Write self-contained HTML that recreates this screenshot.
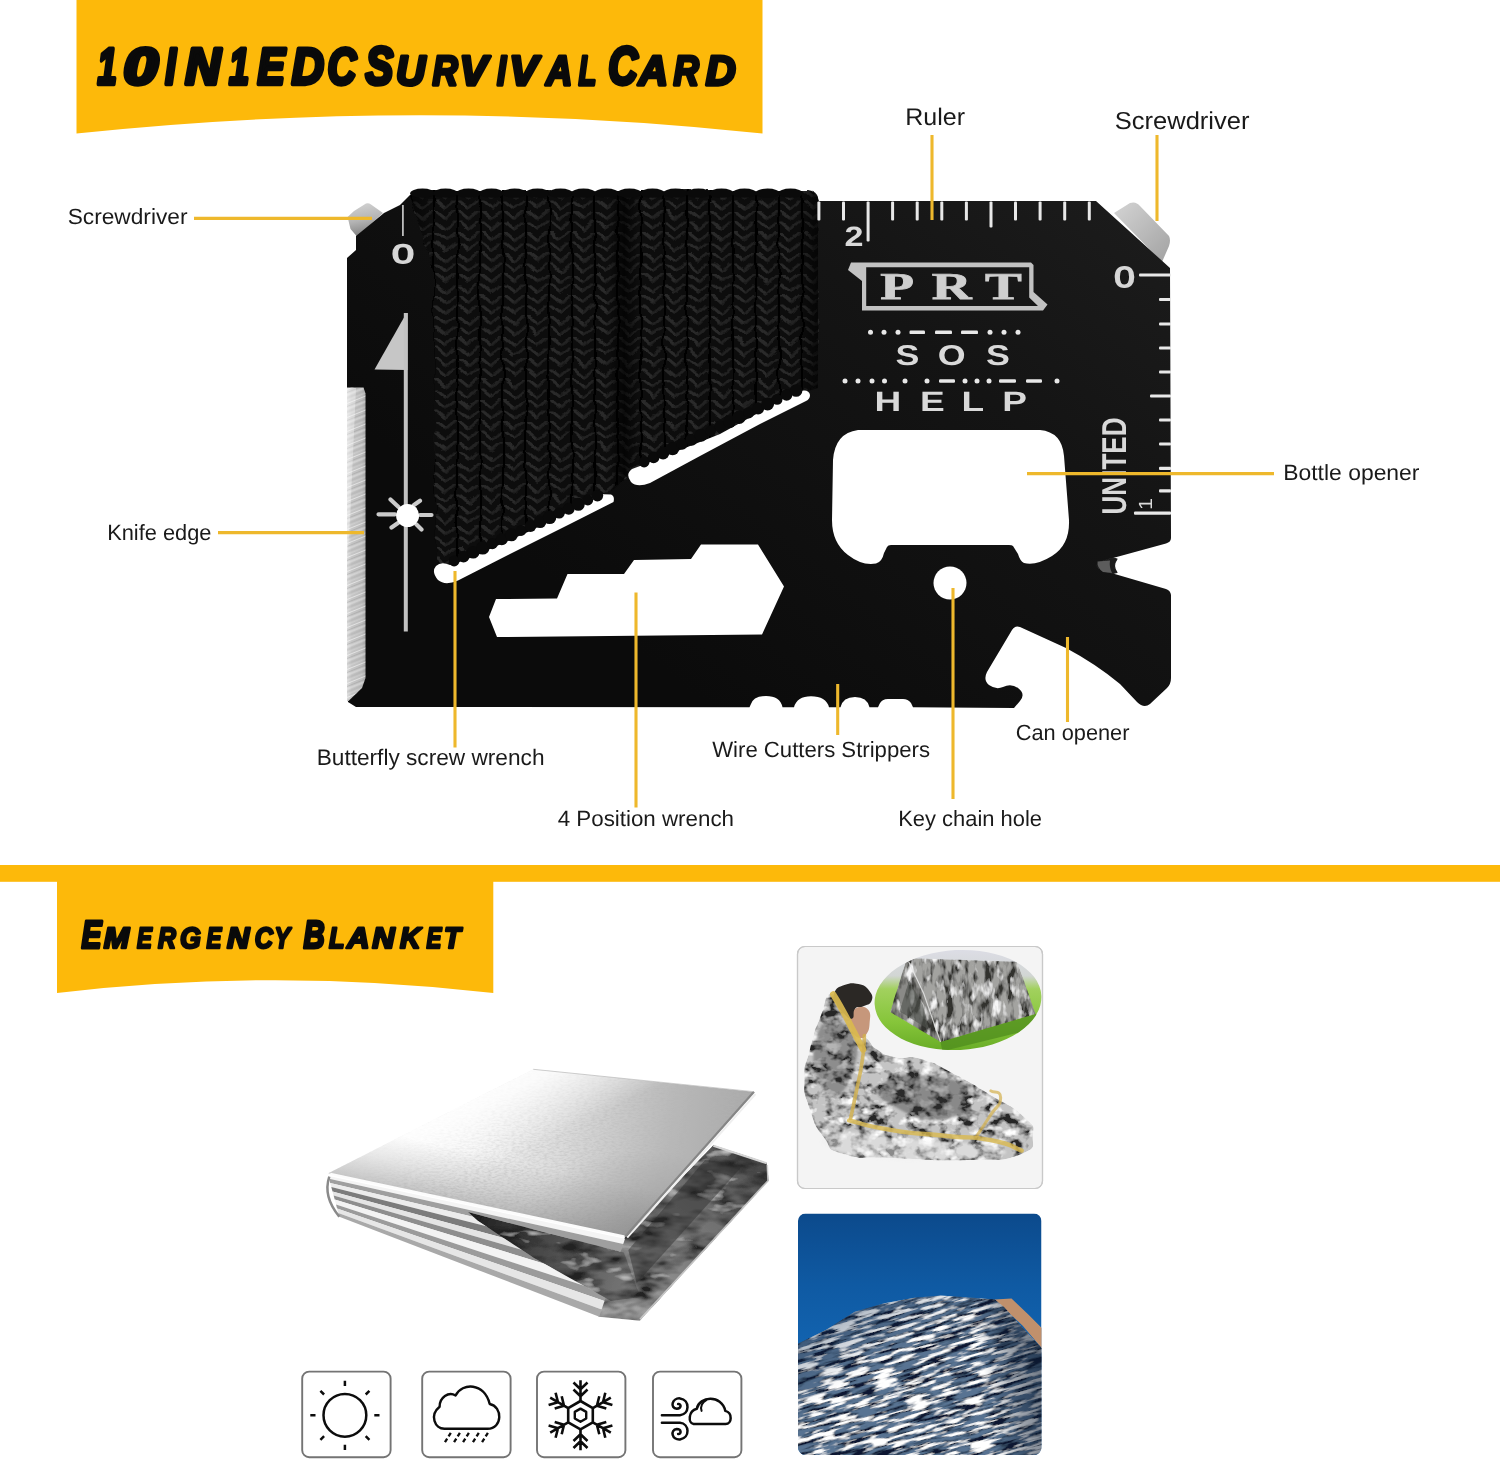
<!DOCTYPE html>
<html lang="en">
<head>
<meta charset="utf-8">
<title>10IN1 EDC Survival Card / Emergency Blanket</title>
<style>
html,body{margin:0;padding:0;background:#fff;}
body{width:1500px;height:1461px;overflow:hidden;position:relative;font-family:"Liberation Sans",sans-serif;}
svg{position:absolute;left:0;top:0;display:block;}
text{text-rendering:geometricPrecision;}
svg{will-change:transform;}
.lbl{font-family:"Liberation Sans",sans-serif;fill:#1a1a1a;}
.ttl{font-family:"Liberation Sans",sans-serif;font-weight:bold;font-style:italic;fill:#0a0a0a;stroke:#0a0a0a;stroke-linejoin:round;}
.eng{font-family:"Liberation Sans",sans-serif;fill:#d9d9d9;}
.ylw{stroke:#eeb82c;stroke-width:3.1;fill:none;stroke-linecap:butt;}
</style>
</head>
<body>
<svg width="1500" height="1461" viewBox="0 0 1500 1461">
<!-- ===== top banner ===== -->
<g id="banner1">
  <title>10IN1EDC SURVIVAL CARD</title>
  <path d="M76.5,0 H762.5 V133.5 Q420,97 76.5,133.5 Z" fill="#fdb90a"/>
  <text class="ttl"><tspan x="97.6" y="84.2" font-size="51.2" stroke-width="4.4" textLength="19.3" lengthAdjust="spacingAndGlyphs">1</tspan><tspan x="123.6" y="84.2" font-size="51.2" stroke-width="4.4" textLength="34.5" lengthAdjust="spacingAndGlyphs">0</tspan><tspan x="165.2" y="84.2" font-size="51.2" stroke-width="4.4" textLength="10.6" lengthAdjust="spacingAndGlyphs">I</tspan><tspan x="185.3" y="84.2" font-size="51.2" stroke-width="4.4" textLength="35.3" lengthAdjust="spacingAndGlyphs">N</tspan><tspan x="228.9" y="84.2" font-size="51.2" stroke-width="4.4" textLength="20.1" lengthAdjust="spacingAndGlyphs">1</tspan><tspan x="257.5" y="84.2" font-size="51.2" stroke-width="4.4" textLength="27.4" lengthAdjust="spacingAndGlyphs">E</tspan><tspan x="291.7" y="84.2" font-size="51.2" stroke-width="4.4" textLength="32.2" lengthAdjust="spacingAndGlyphs">D</tspan><tspan x="327.4" y="84.2" font-size="51.2" stroke-width="4.4" textLength="28.7" lengthAdjust="spacingAndGlyphs">C</tspan></text>
  <text class="ttl"><tspan x="365.5" y="84.2" font-size="53" stroke-width="4.4" textLength="27.7" lengthAdjust="spacingAndGlyphs">S</tspan><tspan x="396.1" y="84.7" font-size="42" stroke-width="3.4" textLength="29.3" lengthAdjust="spacingAndGlyphs">U</tspan><tspan x="432.4" y="84.7" font-size="42" stroke-width="3.4" textLength="25.3" lengthAdjust="spacingAndGlyphs">R</tspan><tspan x="459.5" y="84.7" font-size="42" stroke-width="3.4" textLength="28.0" lengthAdjust="spacingAndGlyphs">V</tspan><tspan x="496.9" y="84.7" font-size="42" stroke-width="3.4" textLength="9.1" lengthAdjust="spacingAndGlyphs">I</tspan><tspan x="509.3" y="84.7" font-size="42" stroke-width="3.4" textLength="28.7" lengthAdjust="spacingAndGlyphs">V</tspan><tspan x="545.9" y="84.7" font-size="42" stroke-width="3.4" textLength="26.3" lengthAdjust="spacingAndGlyphs">A</tspan><tspan x="578.4" y="84.7" font-size="42" stroke-width="3.4" textLength="17.9" lengthAdjust="spacingAndGlyphs">L</tspan></text>
  <text class="ttl"><tspan x="608.2" y="84.2" font-size="53" stroke-width="4.4" textLength="29.4" lengthAdjust="spacingAndGlyphs">C</tspan><tspan x="638.4" y="84.7" font-size="42" stroke-width="3.4" textLength="29.5" lengthAdjust="spacingAndGlyphs">A</tspan><tspan x="673.6" y="84.7" font-size="42" stroke-width="3.4" textLength="25.4" lengthAdjust="spacingAndGlyphs">R</tspan><tspan x="705.8" y="84.7" font-size="42" stroke-width="3.4" textLength="30.0" lengthAdjust="spacingAndGlyphs">D</tspan></text>
</g>
<!-- ===== divider bar + second banner ===== -->
<g id="banner2">
  <title>EMERGENCY BLANKET</title>
  <rect x="0" y="865" width="1500" height="16.8" fill="#fdb90a"/>
  <path d="M57,880 H493.3 V993 Q275,967.5 57,993 Z" fill="#fdb90a"/>
  <text class="ttl"><tspan x="81.4" y="947.5" font-size="39" stroke-width="3.2" textLength="20.0" lengthAdjust="spacingAndGlyphs">E</tspan><tspan x="103.7" y="947.9" font-size="29.3" stroke-width="2.5" textLength="25.4" lengthAdjust="spacingAndGlyphs">M</tspan><tspan x="136.9" y="947.9" font-size="29.3" stroke-width="2.5" textLength="14.9" lengthAdjust="spacingAndGlyphs">E</tspan><tspan x="158.1" y="947.9" font-size="29.3" stroke-width="2.5" textLength="17.9" lengthAdjust="spacingAndGlyphs">R</tspan><tspan x="179.9" y="947.9" font-size="29.3" stroke-width="2.5" textLength="20.9" lengthAdjust="spacingAndGlyphs">G</tspan><tspan x="206.6" y="947.9" font-size="29.3" stroke-width="2.5" textLength="14.9" lengthAdjust="spacingAndGlyphs">E</tspan><tspan x="226.9" y="947.9" font-size="29.3" stroke-width="2.5" textLength="22.4" lengthAdjust="spacingAndGlyphs">N</tspan><tspan x="254.8" y="947.9" font-size="29.3" stroke-width="2.5" textLength="18.2" lengthAdjust="spacingAndGlyphs">C</tspan><tspan x="274.6" y="947.9" font-size="29.3" stroke-width="2.5" textLength="15.4" lengthAdjust="spacingAndGlyphs">Y</tspan></text>
  <text class="ttl"><tspan x="303.6" y="947.5" font-size="39" stroke-width="3.2" textLength="21.2" lengthAdjust="spacingAndGlyphs">B</tspan><tspan x="329.0" y="947.9" font-size="29.3" stroke-width="2.5" textLength="15.5" lengthAdjust="spacingAndGlyphs">L</tspan><tspan x="347.0" y="947.9" font-size="29.3" stroke-width="2.5" textLength="22.5" lengthAdjust="spacingAndGlyphs">A</tspan><tspan x="372.2" y="947.9" font-size="29.3" stroke-width="2.5" textLength="22.4" lengthAdjust="spacingAndGlyphs">N</tspan><tspan x="400.1" y="947.9" font-size="29.3" stroke-width="2.5" textLength="20.5" lengthAdjust="spacingAndGlyphs">K</tspan><tspan x="426.6" y="947.9" font-size="29.3" stroke-width="2.5" textLength="14.9" lengthAdjust="spacingAndGlyphs">E</tspan><tspan x="444.1" y="947.9" font-size="29.3" stroke-width="2.5" textLength="16.6" lengthAdjust="spacingAndGlyphs">T</tspan></text>
</g>
<!-- ===== survival card ===== -->
<defs>
  <pattern id="braid" width="23" height="10.5" patternUnits="userSpaceOnUse" patternTransform="translate(411,190)">
    <rect width="23" height="10.5" fill="#0a0a0a"/>
    <path d="M2.5,0.5 L11,7.5" stroke="#2b2b2b" stroke-width="3.1" fill="none" stroke-linecap="round"/>
    <path d="M20.5,0.5 L12,7.5" stroke="#202020" stroke-width="3.1" fill="none" stroke-linecap="round"/>
    <path d="M0,-1 V12 M23,-1 V12" stroke="#000" stroke-width="2.2"/>
  </pattern>
  <filter id="wob" x="-2%" y="-2%" width="104%" height="104%">
    <feTurbulence type="fractalNoise" baseFrequency="0.045 0.06" numOctaves="2" seed="4" result="t"/>
    <feDisplacementMap in="SourceGraphic" in2="t" scale="7" xChannelSelector="R" yChannelSelector="G"/>
  </filter>
  <pattern id="streaks" width="19" height="14" patternUnits="userSpaceOnUse" patternTransform="translate(347,388) skewY(-22)">
    <path d="M0,1.5 H19" stroke="#fff" stroke-opacity="0.55" stroke-width="0.9"/>
    <path d="M0,4.5 H19" stroke="#888" stroke-opacity="0.35" stroke-width="0.8"/>
    <path d="M0,7 H19" stroke="#fff" stroke-opacity="0.4" stroke-width="1.2"/>
    <path d="M0,10 H19" stroke="#777" stroke-opacity="0.3" stroke-width="0.7"/>
    <path d="M0,12.3 H19" stroke="#fff" stroke-opacity="0.3" stroke-width="0.6"/>
  </pattern>
  <clipPath id="knifeClip"><path d="M347,387.5 L363.5,387.5 L365.5,393.5 L365.5,678 L362,688 L348.5,701 L347,701 Z"/></clipPath>
  <linearGradient id="cardG" gradientUnits="userSpaceOnUse" x1="1100" y1="200" x2="700" y2="700">
    <stop offset="0" stop-color="#1b1b1b"/>
    <stop offset="0.35" stop-color="#141414"/>
    <stop offset="1" stop-color="#0b0b0b"/>
  </linearGradient>
  <linearGradient id="knifeG" x1="0" y1="0" x2="1" y2="0">
    <stop offset="0" stop-color="#dcdcdc"/>
    <stop offset="0.25" stop-color="#c6c6c6"/>
    <stop offset="0.8" stop-color="#bdbdbd"/>
    <stop offset="1" stop-color="#a9a9a9"/>
  </linearGradient>
  <linearGradient id="tipG" x1="0" y1="0" x2="1" y2="1">
    <stop offset="0" stop-color="#d4d4d4"/>
    <stop offset="1" stop-color="#a2a2a2"/>
  </linearGradient>
  <linearGradient id="tipG2" x1="0.3" y1="0" x2="0.5" y2="1">
    <stop offset="0" stop-color="#d2d2d2"/>
    <stop offset="0.5" stop-color="#b5b5b5"/>
    <stop offset="1" stop-color="#7e7e7e"/>
  </linearGradient>
  <linearGradient id="cordShade" x1="0" y1="0" x2="1" y2="0">
    <stop offset="0" stop-color="#000" stop-opacity="0.55"/>
    <stop offset="0.06" stop-color="#000" stop-opacity="0"/>
    <stop offset="0.49" stop-color="#000" stop-opacity="0"/>
    <stop offset="0.525" stop-color="#000" stop-opacity="0.7"/>
    <stop offset="0.56" stop-color="#000" stop-opacity="0"/>
    <stop offset="0.95" stop-color="#000" stop-opacity="0"/>
    <stop offset="1" stop-color="#000" stop-opacity="0.6"/>
  </linearGradient>
</defs>
<g id="card">
  <!-- screwdriver tips -->
  <path d="M347.6,217 L354,211 L366,203.6 Q368.5,202.6 371,204.5 L383,213 L357,236.5 L350.5,229 Z" fill="url(#tipG2)"/>
  <path d="M1114,213 L1130,203 Q1136,201 1140,206 L1169,236 Q1171,240 1169,246 L1162,262 Z" fill="url(#tipG)"/>
  <!-- card body -->
  <path id="cardbody" fill="url(#cardG)" d="
    M347,258 L356,250 L356,236 L384,213 L400,205 L408,197
    Q412,192 420,191.5 L808,191.5 Q816,192 818,198 L819,201
    L1096,201 L1170,268 L1171,538 Q1171,542 1166,543.5
    L1113,558 Q1096,562 1097,566 Q1098,570 1113,573.5
    L1166,589 Q1170.5,590.5 1171,595 L1171,678 Q1171,684 1167,688
    L1150,704 Q1144,709 1137,702 L1120,684 Q1096,664 1066,648 L1020,627 Q1015,625 1012,630
    L987,672 Q983,680 989,685 Q996,690 1003,687 Q1011,683 1018,688 Q1026,694 1020,701 L1014,708
    L913,707.2 L911,703 Q908,699 903,699 L888,699 Q882,699 879.5,704 L878,707.2 L869.5,707.2 Q867,697 855,697 Q843,697 840.5,707.2 L829,707.2 Q826,696.3 811,696.3 Q797,696.3 794,707.2 L782.5,707.2 Q780,696 766,696 Q753,696 750.5,705 L749.5,707.2
    L356,707 L348,702 L347,690 Z"/>
  <!-- paracord -->
  <path fill="url(#braid)" filter="url(#wob)" d="M410,196 Q414,191 422,191 L808,191 Q817,192 818,199 L818,388 L806,392 L780,400 L760,412 L720,434 L680,450 L640,466 L630,472 L614,490 L596,494 L570,512 L530,532 L490,550 L450,566 L436,562 L434,270 Z"/>
  <path fill="url(#cordShade)" d="M410,196 Q414,191 422,191 L808,191 Q817,192 818,199 L818,388 L806,392 L780,400 L760,412 L720,434 L680,450 L640,466 L630,472 L614,490 L596,494 L570,512 L530,532 L490,550 L450,566 L436,562 L434,270 Z"/>
  <!-- diagonal slots -->
  <path fill="#fff" d="M450,565 Q470,559 490,549 L530,531 L570,511 L596,494 L611,494.5 Q615,496 613.5,502 L570,524 L510,554 L458,580.5 Q445,586 438,580 Q431,572 436,566 Q441,561 450,565 Z"/>
  <path fill="#fff" d="M640,466 L680,450 L720,434 L760,412 L780,400 L800,391 Q809,389 810,395 Q810,399 806,401 L760,424 L700,456 L650,483 Q637,488 631,482 Q625,474 632,469 Z"/>
  <g id="scallops" fill="#0a0a0a">
  <circle cx="454.1" cy="561.0" r="5.4"/>
  <circle cx="463.6" cy="556.6" r="5.8"/>
  <circle cx="473.2" cy="552.3" r="6.3"/>
  <circle cx="482.7" cy="547.9" r="6.7"/>
  <circle cx="492.3" cy="543.6" r="5.6"/>
  <circle cx="501.8" cy="539.2" r="6.0"/>
  <circle cx="511.4" cy="534.8" r="6.5"/>
  <circle cx="521.0" cy="530.5" r="5.4"/>
  <circle cx="530.5" cy="526.1" r="5.8"/>
  <circle cx="540.1" cy="521.8" r="6.3"/>
  <circle cx="549.6" cy="517.4" r="6.7"/>
  <circle cx="559.2" cy="513.0" r="5.6"/>
  <circle cx="568.7" cy="508.7" r="6.0"/>
  <circle cx="578.3" cy="504.3" r="6.5"/>
  <circle cx="587.8" cy="500.0" r="5.4"/>
  <circle cx="597.4" cy="495.6" r="5.8"/>
  <circle cx="644.1" cy="462.0" r="5.4"/>
  <circle cx="653.6" cy="457.5" r="5.8"/>
  <circle cx="663.1" cy="453.1" r="6.3"/>
  <circle cx="672.6" cy="448.6" r="6.7"/>
  <circle cx="682.1" cy="444.1" r="5.6"/>
  <circle cx="691.6" cy="439.7" r="6.0"/>
  <circle cx="701.1" cy="435.2" r="6.5"/>
  <circle cx="710.6" cy="430.7" r="5.4"/>
  <circle cx="720.1" cy="426.2" r="5.8"/>
  <circle cx="729.6" cy="421.8" r="6.3"/>
  <circle cx="739.1" cy="417.3" r="6.7"/>
  <circle cx="748.6" cy="412.8" r="5.6"/>
  <circle cx="758.1" cy="408.4" r="6.0"/>
  <circle cx="767.6" cy="403.9" r="6.5"/>
  <circle cx="777.1" cy="399.4" r="5.4"/>
  <circle cx="786.6" cy="394.9" r="5.8"/>
  <circle cx="796.1" cy="390.5" r="6.3"/>
  <ellipse cx="422.5" cy="193.2" rx="12.3" ry="4.6"/>
  <ellipse cx="445.5" cy="193.2" rx="12.3" ry="4.6"/>
  <ellipse cx="468.5" cy="193.2" rx="12.3" ry="4.6"/>
  <ellipse cx="491.5" cy="193.2" rx="12.3" ry="4.6"/>
  <ellipse cx="514.5" cy="193.2" rx="12.3" ry="4.6"/>
  <ellipse cx="537.5" cy="193.2" rx="12.3" ry="4.6"/>
  <ellipse cx="560.5" cy="193.2" rx="12.3" ry="4.6"/>
  <ellipse cx="583.5" cy="193.2" rx="12.3" ry="4.6"/>
  <ellipse cx="606.5" cy="193.2" rx="12.3" ry="4.6"/>
  <ellipse cx="629.5" cy="193.2" rx="12.3" ry="4.6"/>
  <ellipse cx="652.5" cy="193.2" rx="12.3" ry="4.6"/>
  <ellipse cx="675.5" cy="193.2" rx="12.3" ry="4.6"/>
  <ellipse cx="698.5" cy="193.2" rx="12.3" ry="4.6"/>
  <ellipse cx="721.5" cy="193.2" rx="12.3" ry="4.6"/>
  <ellipse cx="744.5" cy="193.2" rx="12.3" ry="4.6"/>
  <ellipse cx="767.5" cy="193.2" rx="12.3" ry="4.6"/>
  <ellipse cx="790.5" cy="193.2" rx="12.3" ry="4.6"/>
  </g>
  <!-- 4 position wrench -->
  <path fill="#fff" d="M489,617 L496,599 L557,598.5 L567.5,574 L624,574 L634,560 L691,559 L701,544.5 L758,544.5 L784,586.5 L762,634.5 L497,637 Z"/>
  <!-- bottle opener -->
  <path fill="#fff" d="M858,430 L1040,430 Q1062,432 1064,456 L1069,520 Q1070,545 1052,556 Q1036,566 1024,563 Q1020,561 1018,554 L1013,546 Q1012,545 1009,545 L891,545 Q888,545 887,547 L884,553 Q882,562 876,563.5 Q862,566 848,555 Q832,543 832,520 L833,460 Q835,433 858,430 Z"/>
  <!-- key chain hole -->
  <circle cx="950" cy="583" r="16.5" fill="#fff"/>
  <!-- notch bevel -->
  <path fill="#1b1b1b" stroke="#1b1b1b" stroke-width="1.2" stroke-linejoin="round" d="M1113,558 Q1096,562 1097,566 Q1098,570 1113,573.5 L1117,572.5 Q1112,566 1117,559 Z"/>
  <path fill="#5c5c5c" d="M1097.5,561.5 L1110,560.5 Q1109,567 1112,573 L1103,572 Q1097,568 1097.5,561.5 Z"/>
  <!-- knife edge -->
  <path fill="url(#knifeG)" d="M347,387.5 L363.5,387.5 L365.5,393.5 L365.5,678 L362,688 L348.5,701 L347,701 Z"/>
  <g clip-path="url(#knifeClip)">
    <rect x="347" y="387" width="19" height="315" fill="url(#streaks)"/>
    <path d="M347,388 L356,388 L350,520 L347,560 Z" fill="#fff" opacity="0.35"/>
  </g>
  <!-- arrow -->
  <path fill="#c6c6c6" d="M406.5,313 L407.5,313 L407.5,370 L374.5,369.5 Z"/>
  <rect x="403.8" y="313" width="4" height="318.5" fill="#c2c2c2"/>
  <!-- star hole -->
  <g stroke="#cbcbcb" stroke-width="4.2" stroke-linecap="round">
    <path d="M378.5,514.3 H395 M420,515 H431.5 M390.5,499.5 L398.5,507 M414,505 L420,500.8 M391.5,527.5 L398,523 M416.5,524.5 L421.5,529.5"/>
  </g>
  <circle cx="407.6" cy="515.5" r="11.5" fill="#fff"/>
  <!-- left "0" mark -->
  <rect x="402" y="205" width="1.8" height="31" fill="#bdbdbd"/>
  <text class="eng" x="391.9" y="262.6" font-size="26.5" textLength="22" lengthAdjust="spacingAndGlyphs" stroke="#d6d6d6" stroke-width="1.5">0</text>
</g>
<!-- ===== engravings ===== -->
<g id="engrave" fill="#e8e8e8" stroke="none">
<rect x="817.4" y="201.5" width="3" height="19" rx="1"/>
<rect x="842.0" y="201.5" width="3" height="19" rx="1"/>
<rect x="866.6" y="201.5" width="3" height="40" rx="1"/>
<rect x="891.1" y="201.5" width="3" height="19" rx="1"/>
<rect x="915.7" y="201.5" width="3" height="19" rx="1"/>
<rect x="940.3" y="201.5" width="3" height="19" rx="1"/>
<rect x="964.9" y="201.5" width="3" height="19" rx="1"/>
<rect x="989.5" y="201.5" width="3" height="26" rx="1"/>
<rect x="1014.0" y="201.5" width="3" height="19" rx="1"/>
<rect x="1038.6" y="201.5" width="3" height="19" rx="1"/>
<rect x="1063.2" y="201.5" width="3" height="19" rx="1"/>
<rect x="1087.8" y="201.5" width="3" height="19" rx="1"/>
<rect x="1139" y="273.4" width="32" height="3.2" rx="1"/>
<rect x="1159" y="297.9" width="12" height="3.2" rx="1"/>
<rect x="1159" y="322.4" width="12" height="3.2" rx="1"/>
<rect x="1159" y="346.4" width="12" height="3.2" rx="1"/>
<rect x="1159" y="370.4" width="12" height="3.2" rx="1"/>
<rect x="1150" y="394.4" width="21" height="3.2" rx="1"/>
<rect x="1159" y="418.4" width="12" height="3.2" rx="1"/>
<rect x="1159" y="442.4" width="12" height="3.2" rx="1"/>
<rect x="1159" y="466.7" width="12" height="3.2" rx="1"/>
<rect x="1159" y="489.2" width="12" height="3.2" rx="1"/>
<rect x="1134" y="511.6" width="37" height="3.2" rx="1"/>
<circle cx="870.5" cy="332.3" r="2.5"/>
<circle cx="884" cy="332.3" r="2.5"/>
<circle cx="898" cy="332.3" r="2.5"/>
<rect x="909.5" y="330.5" width="15.5" height="3.6" rx="1.2"/>
<rect x="935" y="330.5" width="17" height="3.6" rx="1.2"/>
<rect x="961" y="330.5" width="17" height="3.6" rx="1.2"/>
<circle cx="990" cy="332.3" r="2.5"/>
<circle cx="1004" cy="332.3" r="2.5"/>
<circle cx="1018" cy="332.3" r="2.5"/>
<circle cx="845" cy="381" r="2.5"/>
<circle cx="858" cy="381" r="2.5"/>
<circle cx="872" cy="381" r="2.5"/>
<circle cx="884.5" cy="381" r="2.5"/>
<circle cx="905" cy="381" r="2.5"/>
<circle cx="927" cy="381" r="2.5"/>
<rect x="939" y="379.2" width="16" height="3.6" rx="1.2"/>
<circle cx="965" cy="381" r="2.5"/>
<circle cx="977" cy="381" r="2.5"/>
<circle cx="989" cy="381" r="2.5"/>
<rect x="999" y="379.2" width="17" height="3.6" rx="1.2"/>
<rect x="1026" y="379.2" width="16" height="3.6" rx="1.2"/>
<circle cx="1057" cy="381" r="2.5"/>
</g>
<g id="engrave-text">
  <!-- PRT logo frame -->
  <path fill="#c2c2c2" fill-rule="evenodd" d="M851,262.5 L1031,262.5 L1033.5,265 L1033.5,292 L1047.5,304.5 L1043,310.5 L862,310.5 L862,281 L848,270 Z M866.2,267.3 L866.2,306 L1038,306 L1029.2,297.5 L1029.2,267.3 Z"/>
  <text class="eng" transform="translate(0,299) scale(1.452,1)" x="606.3 641.7 678.3" y="0" font-size="38" font-weight="bold" stroke="#cfcfcf" stroke-width="0.8" fill="#cfcfcf" style="font-family:'Liberation Serif',serif;fill:#cfcfcf">PRT</text>
  <!-- SOS / HELP -->
  <text class="eng" transform="translate(0,365.4) scale(1.258,1)" x="711.9 745.4 783.7" y="0" font-size="28.5" font-weight="bold">SOS</text>
  <text class="eng" transform="translate(0,411.3) scale(1.323,1)" x="661.0 695.3 726.8 757.6" y="0" font-size="28" font-weight="bold">HELP</text>
  <!-- ruler numbers -->
  <text class="eng" x="844.5" y="246" font-size="28" font-weight="bold" textLength="19" lengthAdjust="spacingAndGlyphs">2</text>
  <text class="eng" x="1114.2" y="286.6" font-size="29" textLength="20.5" lengthAdjust="spacingAndGlyphs" stroke="#d6d6d6" stroke-width="1.5">0</text>
  <text class="eng" transform="translate(1152,510) rotate(-90)" font-size="19" textLength="12" lengthAdjust="spacingAndGlyphs">1</text>
  <text class="eng" transform="translate(1126,514.5) rotate(-90)" font-size="34.5" font-weight="bold" textLength="97" lengthAdjust="spacingAndGlyphs">UNITED</text>
</g>
<!-- ===== callout lines + labels ===== -->
<g id="callouts">
  <path class="ylw" d="M194,218.4 H372"/>
  <path class="ylw" d="M932,135 V220"/>
  <path class="ylw" d="M1157,135 V221"/>
  <path class="ylw" d="M218,532.6 H364"/>
  <path class="ylw" d="M1027,473.6 H1274"/>
  <path class="ylw" d="M455,571 V747.5"/>
  <path class="ylw" d="M636,592.5 V807.5"/>
  <path class="ylw" d="M837.7,684 V735"/>
  <path class="ylw" d="M1067.5,637 V722"/>
  <path class="ylw" d="M953,588 V799"/>
  <text class="lbl" x="67.7" y="224" font-size="22" textLength="119.8" lengthAdjust="spacingAndGlyphs">Screwdriver</text>
  <text class="lbl" x="905.2" y="125.3" font-size="24" textLength="59.8" lengthAdjust="spacingAndGlyphs">Ruler</text>
  <text class="lbl" x="1114.7" y="129.3" font-size="24.5" textLength="134.8" lengthAdjust="spacingAndGlyphs">Screwdriver</text>
  <text class="lbl" x="107.2" y="540" font-size="22" textLength="104.3" lengthAdjust="spacingAndGlyphs">Knife edge</text>
  <text class="lbl" x="1283.2" y="480" font-size="22" textLength="136.3" lengthAdjust="spacingAndGlyphs">Bottle opener</text>
  <text class="lbl" x="316.7" y="764.5" font-size="22.5" textLength="227.8" lengthAdjust="spacingAndGlyphs">Butterfly screw wrench</text>
  <text class="lbl" x="557.7" y="826.4" font-size="22" textLength="176.3" lengthAdjust="spacingAndGlyphs">4 Position wrench</text>
  <text class="lbl" x="712.2" y="757.4" font-size="22" textLength="217.8" lengthAdjust="spacingAndGlyphs">Wire Cutters Strippers</text>
  <text class="lbl" x="1015.7" y="740" font-size="22" textLength="113.8" lengthAdjust="spacingAndGlyphs">Can opener</text>
  <text class="lbl" x="898.2" y="825.8" font-size="22" textLength="143.8" lengthAdjust="spacingAndGlyphs">Key chain hole</text>
</g>
<!-- ===== folded blanket ===== -->
<defs>
  <linearGradient id="bkTop" gradientUnits="userSpaceOnUse" x1="370" y1="1120" x2="745" y2="1175">
    <stop offset="0" stop-color="#fdfdfd"/>
    <stop offset="0.28" stop-color="#f3f3f3"/>
    <stop offset="0.52" stop-color="#dadada"/>
    <stop offset="0.78" stop-color="#b9b9b9"/>
    <stop offset="1" stop-color="#a8a8a8"/>
  </linearGradient>
  <radialGradient id="bkShade" gradientUnits="userSpaceOnUse" cx="640" cy="1225" r="120" gradientTransform="translate(640 1225) scale(1 0.62) translate(-640 -1225)">
    <stop offset="0" stop-color="#808080" stop-opacity="0.5"/>
    <stop offset="0.6" stop-color="#8a8a8a" stop-opacity="0.2"/>
    <stop offset="1" stop-color="#8a8a8a" stop-opacity="0"/>
  </radialGradient>
  <linearGradient id="wedgeG" gradientUnits="userSpaceOnUse" x1="470" y1="1215" x2="640" y2="1280">
    <stop offset="0" stop-color="#1e1e1e"/>
    <stop offset="0.45" stop-color="#4a4a4a"/>
    <stop offset="1" stop-color="#7a7a7a"/>
  </linearGradient>
  <linearGradient id="frontShade" gradientUnits="userSpaceOnUse" x1="492" y1="1208" x2="503" y2="1158">
    <stop offset="0" stop-color="#7c7c7c" stop-opacity="0.42"/>
    <stop offset="0.5" stop-color="#8a8a8a" stop-opacity="0.2"/>
    <stop offset="1" stop-color="#8a8a8a" stop-opacity="0"/>
  </linearGradient>
  <linearGradient id="bkFade" gradientUnits="userSpaceOnUse" x1="455" y1="1075" x2="500" y2="1165">
    <stop offset="0" stop-color="#fff" stop-opacity="1"/>
    <stop offset="0.4" stop-color="#fff" stop-opacity="0.85"/>
    <stop offset="1" stop-color="#fff" stop-opacity="0"/>
  </linearGradient>
  <linearGradient id="bkEdge" gradientUnits="userSpaceOnUse" x1="480" y1="1205" x2="488" y2="1188">
    <stop offset="0" stop-color="#9a9a9a" stop-opacity="0.55"/>
    <stop offset="1" stop-color="#9a9a9a" stop-opacity="0"/>
  </linearGradient>
  <linearGradient id="bkSide" gradientUnits="userSpaceOnUse" x1="750" y1="1150" x2="620" y2="1315">
    <stop offset="0" stop-color="#4c4c4c"/>
    <stop offset="0.3" stop-color="#6c6c6c"/>
    <stop offset="0.6" stop-color="#7e7e7e"/>
    <stop offset="1" stop-color="#a8a8a8"/>
  </linearGradient>
  <filter id="crinkle" x="-5%" y="-5%" width="110%" height="110%">
    <feTurbulence type="fractalNoise" baseFrequency="0.03 0.07" numOctaves="3" seed="11" result="n"/>
    <feColorMatrix in="n" type="matrix" values="0 0 0 0 0  0 0 0 0 0  0 0 0 0 0  2.6 0 0 0 -0.95" result="a"/>
    <feFlood flood-color="#222"/>
    <feComposite in2="a" operator="in" result="dark"/>
    <feColorMatrix in="n" type="matrix" values="0 0 0 0 0  0 0 0 0 0  0 0 0 0 0  0 -2.6 0 0 0.95" result="b"/>
    <feFlood flood-color="#ededed"/>
    <feComposite in2="b" operator="in" result="light"/>
    <feMerge result="m"><feMergeNode in="SourceGraphic"/><feMergeNode in="dark"/><feMergeNode in="light"/></feMerge>
    <feComposite in="m" in2="SourceAlpha" operator="in"/>
  </filter>
  <filter id="grain" x="0" y="0" width="100%" height="100%">
    <feTurbulence type="fractalNoise" baseFrequency="0.25 0.6" numOctaves="2" seed="2" result="n"/>
    <feColorMatrix in="n" type="matrix" values="0 0 0 0 0.45  0 0 0 0 0.45  0 0 0 0 0.45  0.9 0 0 0 -0.32" result="a"/>
    <feMerge result="m"><feMergeNode in="SourceGraphic"/><feMergeNode in="a"/></feMerge>
    <feComposite in="m" in2="SourceAlpha" operator="in"/>
  </filter>
  <filter id="soft" x="-5%" y="-5%" width="110%" height="110%"><feGaussianBlur stdDeviation="0.6"/></filter>
</defs>
<g id="blanket">
  <path d="M713.3,1145.0 L766.7,1162.7 L768.7,1180.7 L640.0,1320.7 L598.3,1316.7 L625.0,1236.7 Z" fill="url(#bkSide)" filter="url(#crinkle)"/>
  <path d="M705.0,1160.0 L743.3,1165.0 L636.7,1283.3 L628.3,1250.0 Z" fill="#2a2a2a" opacity="0.45" filter="url(#soft)"/>
  <path d="M713.3,1145.7 L766.7,1163.3" stroke="#d4d4d4" stroke-width="2" fill="none"/>
  <path d="M767.3,1165.0 L768.0,1180.7 L640.0,1319.3" stroke="#d0d0d0" stroke-width="1.6" fill="none" opacity="0.85"/>
  <g filter="url(#soft)">
    <path d="M328.3,1176.0 L625.0,1238.7 L623.2,1244.1 L329.1,1178.8 Z" fill="#f4f4f4"/>
    <path d="M329.1,1178.8 L623.2,1244.1 L620.6,1251.9 L330.2,1182.9 Z" fill="#9f9f9f"/>
    <path d="M330.2,1182.9 L620.6,1251.9 L618.1,1259.7 L331.3,1187.0 Z" fill="#ececec"/>
    <path d="M331.3,1187.0 L618.1,1259.7 L615.2,1268.3 L332.5,1191.5 Z" fill="#7c7c7c"/>
    <path d="M332.5,1191.5 L615.2,1268.3 L612.7,1276.1 L333.6,1195.5 Z" fill="#e4e4e4"/>
    <path d="M333.6,1195.5 L612.7,1276.1 L610.1,1283.9 L334.7,1199.6 Z" fill="#8e8e8e"/>
    <path d="M334.7,1199.6 L610.1,1283.9 L607.0,1293.3 L336.0,1204.5 Z" fill="#f3f3f3"/>
    <path d="M336.0,1204.5 L607.0,1293.3 L604.5,1301.1 L337.1,1208.5 Z" fill="#9b9b9b"/>
    <path d="M337.1,1208.5 L604.5,1301.1 L601.6,1309.6 L338.3,1213.0 Z" fill="#e6e6e6"/>
    <path d="M338.3,1213.0 L601.6,1309.6 L599.3,1316.7 L339.3,1216.7 Z" fill="#a9a9a9"/>
    <path d="M468,1212 L534,1229.5 L624,1252.5 L640,1297 L611,1301 L534,1258 L478,1221 Z" fill="url(#wedgeG)" filter="url(#crinkle)"/>
    <path d="M329.3,1176.7 Q322.7,1196.7 339.3,1216.7" stroke="#8a8a8a" stroke-width="2.5" fill="none"/>
  </g>
  <path d="M328.3,1173.3 L533.3,1069.3 L754.0,1091.7 L625.0,1236.7 Z" fill="url(#bkTop)" filter="url(#grain)"/>
  <path d="M328.3,1173.3 L533.3,1069.3 L754.0,1091.7 L625.0,1236.7 Z" fill="url(#bkFade)"/>
  <path d="M328.3,1173.3 L533.3,1069.3 L754.0,1091.7 L625.0,1236.7 Z" fill="url(#bkShade)"/>
  <path d="M328.3,1173.3 L533.3,1069.3 L754.0,1091.7 L625.0,1236.7 Z" fill="url(#frontShade)"/>
  <path d="M330.3,1173.8 L625.0,1236.7" stroke="#fcfcfc" stroke-width="2.4" fill="none"/>
  <path d="M625.0,1236.7 L754.0,1091.7" stroke="#868686" stroke-width="2.2" fill="none"/>
  <path d="M627.2,1237.7 L755.5,1094.2" stroke="#efefef" stroke-width="2" fill="none"/>
  <path d="M533.3,1069.3 L754.0,1091.7" stroke="#b9b9b9" stroke-width="1" fill="none" opacity="0.7"/>
</g>
<!-- ===== photo 1 : sleeping bag + tent ===== -->
<defs>
  <clipPath id="ph1clip"><rect x="797.5" y="946.5" width="245" height="242" rx="7.5"/></clipPath>
  <clipPath id="tentEll"><ellipse cx="958" cy="1000" rx="83.5" ry="50" transform="rotate(-3 958 1000)"/></clipPath>
  <linearGradient id="grassG" x1="0" y1="0" x2="0" y2="1">
    <stop offset="0" stop-color="#dedee8"/>
    <stop offset="0.28" stop-color="#d2d6d4"/>
    <stop offset="0.4" stop-color="#a2d15e"/>
    <stop offset="0.7" stop-color="#86c53a"/>
    <stop offset="1" stop-color="#64a823"/>
  </linearGradient>
  <filter id="foil" x="-5%" y="-5%" width="110%" height="110%">
    <feTurbulence type="fractalNoise" baseFrequency="0.075 0.095" numOctaves="3" seed="3" result="n"/>
    <feColorMatrix in="n" type="matrix" values="0 0 0 0 0  0 0 0 0 0  0 0 0 0 0  4.2 0 0 0 -1.85" result="a"/>
    <feFlood flood-color="#262626"/>
    <feComposite in2="a" operator="in" result="dark"/>
    <feColorMatrix in="n" type="matrix" values="0 0 0 0 0  0 0 0 0 0  0 0 0 0 0  0 -4.2 0 0 1.9" result="b"/>
    <feFlood flood-color="#ffffff"/>
    <feComposite in2="b" operator="in" result="light"/>
    <feMerge result="m"><feMergeNode in="SourceGraphic"/><feMergeNode in="dark"/><feMergeNode in="light"/></feMerge>
    <feComposite in="m" in2="SourceAlpha" operator="in"/>
  </filter>
  <filter id="foilT" x="-5%" y="-5%" width="110%" height="110%">
    <feTurbulence type="fractalNoise" baseFrequency="0.13 0.055" numOctaves="3" seed="9" result="n"/>
    <feColorMatrix in="n" type="matrix" values="0 0 0 0 0  0 0 0 0 0  0 0 0 0 0  4.0 0 0 0 -1.7" result="a"/>
    <feFlood flood-color="#33332f"/>
    <feComposite in2="a" operator="in" result="dark"/>
    <feColorMatrix in="n" type="matrix" values="0 0 0 0 0  0 0 0 0 0  0 0 0 0 0  0 -4.0 0 0 1.8" result="b"/>
    <feFlood flood-color="#f6f6f6"/>
    <feComposite in2="b" operator="in" result="light"/>
    <feMerge result="m"><feMergeNode in="SourceGraphic"/><feMergeNode in="dark"/><feMergeNode in="light"/></feMerge>
    <feComposite in="m" in2="SourceAlpha" operator="in"/>
  </filter>
  <filter id="blur1" x="-10%" y="-10%" width="120%" height="120%"><feGaussianBlur stdDeviation="1.3"/></filter>
  <filter id="blur0" x="-10%" y="-10%" width="120%" height="120%"><feGaussianBlur stdDeviation="0.5"/></filter>
</defs>
<g id="photo1">
  <rect x="797.5" y="946.5" width="245" height="242" rx="7.5" fill="#f4f4f4" stroke="#c9c9c9" stroke-width="1.2"/>
  <g clip-path="url(#ph1clip)">
    <!-- tent inset -->
    <g clip-path="url(#tentEll)">
      <rect x="870" y="945" width="180" height="110" fill="url(#grassG)"/>
      <path d="M940.5,1042.0 L1035.7,1014.0 L1041.3,1017.7 L1041.3,1027.1 L942.4,1051.3 Z" fill="#4f8c1e" opacity="0.75"/>
      <path d="M906.9,958.0 L1017.1,961.7 L1035.7,1014.0 L940.5,1042.0 L921.9,991.6 Z" fill="#a3a3a0" filter="url(#foilT)"/>
      <path d="M906.9,958.0 L890.1,1012.1 L940.5,1042.0 L923.7,993.5 Z" fill="#8a8a87" filter="url(#foilT)"/>
      <path d="M909.2,980.4 L899.5,1011.2 L929.3,1029.9 L922.8,1004.7 Z" fill="#50524d" opacity="0.6" filter="url(#blur0)"/>
      <path d="M906.9,958.0 L923.7,993.5 L940.5,1042.0" stroke="#e9e9e9" stroke-width="1.2" fill="none" opacity="0.8"/>
    </g>
    <path d="M833.2,994.4 C823.4,992.7 827.1,1001.2 820.1,1017.7 C813.1,1034.3 814.6,1031.0 809.9,1049.5 C805.1,1068.0 804.3,1061.4 804.3,1079.3 C804.3,1097.3 804.0,1091.8 809.9,1109.2 C815.7,1126.6 813.8,1123.8 823.9,1137.2 C833.9,1150.6 823.0,1147.7 843.5,1154.0 C863.9,1160.3 855.0,1156.3 892.0,1158.1 C929.0,1159.9 928.6,1160.9 966.7,1160.0 C1004.8,1159.0 999.1,1162.3 1018.9,1154.9 C1038.8,1147.5 1031.8,1147.1 1032.9,1135.3 C1034.1,1123.6 1035.3,1127.8 1022.7,1115.7 C1010.1,1103.7 1011.1,1107.5 990.9,1095.2 C970.8,1082.9 976.2,1085.5 955.5,1074.7 C934.8,1063.9 939.8,1064.4 921.9,1059.2 C903.9,1054.0 909.2,1060.2 895.7,1057.3 C882.3,1054.4 885.5,1054.9 877.1,1049.5 C868.7,1044.0 875.0,1047.0 867.7,1039.2 C860.5,1031.4 863.2,1036.8 852.8,1023.3 C842.4,1009.9 843.0,996.1 833.2,994.4 Z" fill="#c4c4c4" filter="url(#foil)"/>
    <path d="M884.5,1083.1 C898.2,1072.5 912.5,1072.5 940.5,1077.5 C968.5,1082.4 966.0,1084.3 968.5,1098.0 C971.0,1111.7 971.0,1114.8 948.0,1118.5 C925.0,1122.3 920.6,1121.0 899.5,1109.2 C878.3,1097.4 870.8,1093.6 884.5,1083.1 Z" fill="#333" opacity="0.4" filter="url(#blur1)"/>
    <path d="M817.3,1034.5 C824.8,1013.4 835.4,1014.6 847.2,1027.1 C859.0,1039.5 860.3,1050.7 852.8,1071.9 C845.3,1093.0 836.6,1103.0 824.8,1090.5 C813.0,1078.1 809.9,1055.7 817.3,1034.5 Z" fill="#2c2c2c" opacity="0.35" filter="url(#blur1)"/>
    <path d="M836.0,1133.5 C854.7,1128.5 857.8,1135.6 910.7,1140.0 C963.6,1144.4 976.0,1140.5 994.7,1146.5 C1013.3,1152.6 1013.3,1155.3 966.7,1158.1 C920.0,1160.9 898.2,1163.2 854.7,1154.9 C811.1,1146.7 817.3,1138.5 836.0,1133.5 Z" fill="#f0f0f0" opacity="0.5" filter="url(#blur1)"/>
    <path d="M855.6,1008.4 C860.2,1006.2 864.0,1005.4 867.7,1009.3 C871.5,1013.3 870.0,1016.6 869.6,1023.3 C869.2,1030.1 868.7,1030.7 866.2,1034.5 C863.8,1038.4 863.9,1038.6 860.3,1037.9 C856.7,1037.1 855.4,1037.1 852.8,1031.7 C850.2,1026.4 849.8,1024.0 850.6,1017.7 C851.3,1011.5 851.0,1010.6 855.6,1008.4 Z" fill="#c6977b"/>
    <path d="M834.5,992.5 C836.7,987.8 838.0,987.3 844.4,985.1 C850.8,982.8 851.8,982.6 858.4,984.1 C865.0,985.6 865.7,986.2 869.2,990.7 C872.7,995.1 873.1,996.8 871.5,1000.9 C869.8,1005.1 867.4,1004.1 863.1,1006.2 C858.7,1008.3 858.0,1005.4 855.0,1008.8 C852.1,1012.1 855.2,1017.8 851.9,1018.7 C848.5,1019.6 846.8,1016.4 842.5,1012.1 C838.3,1007.9 838.1,1008.0 836.0,1002.8 C833.9,997.6 832.3,997.3 834.5,992.5 Z" fill="#2b2825"/>
    <g fill="none" stroke-linecap="round" stroke-linejoin="round" filter="url(#blur0)">
      <path d="M833.2,994.4 C836.3,999.7 835.4,997.2 842.5,1010.3 C849.7,1023.3 847.8,1020.5 854.7,1033.6 C861.5,1046.7 860.3,1044.2 863.1,1049.5" stroke="#d9b94f" stroke-width="6.4" opacity="0.92"/>
      <path d="M864.4,1035.5 C863.8,1043.2 865.0,1041.1 862.5,1058.8 C860.0,1076.5 860.9,1068.8 856.9,1088.7 C852.9,1108.6 852.7,1108.6 850.6,1118.5" stroke="#d2b04e" stroke-width="3.6" opacity="0.8"/>
      <path d="M849.1,1120.4 C863.4,1123.6 860.3,1125.0 892.0,1130.1 C923.7,1135.2 911.3,1132.4 944.3,1135.7 C977.2,1139.1 965.1,1135.2 990.9,1140.2 C1016.8,1145.2 1011.5,1147.2 1021.7,1150.6" stroke="#d9b94f" stroke-width="4.4" opacity="0.8"/>
      <path d="M990.9,1090.9 C994.2,1093.4 1001.1,1089.8 1000.6,1098.4 C1000.1,1107.0 997.7,1103.7 989.4,1116.7 C981.2,1129.6 980.5,1130.4 976.0,1137.2" stroke="#d6b455" stroke-width="3" opacity="0.75"/>
    </g>
  </g>
  <rect x="797.5" y="946.5" width="245" height="242" rx="7.5" fill="none" stroke="#c9c9c9" stroke-width="1.2"/>
</g>
<!-- ===== photo 2 : blanket against sky ===== -->
<defs>
  <clipPath id="ph2clip"><rect x="798" y="1213.5" width="243.5" height="241.5" rx="7.5"/></clipPath>
  <clipPath id="foilclip"><path d="M796.8,1344.3 L826.7,1329.4 L854.7,1311.7 L884.5,1303.3 L914.4,1297.7 L940.5,1295.4 L966.7,1297.3 L994.7,1299.5 L1004.0,1307.0 L1020.8,1325.7 L1043.2,1349.9 L1043.2,1456.3 L796.8,1456.3 Z"/></clipPath>
  <linearGradient id="foilShade" gradientUnits="userSpaceOnUse" x1="985" y1="1380" x2="1045" y2="1370">
    <stop offset="0" stop-color="#0a1a30" stop-opacity="0"/>
    <stop offset="0.5" stop-color="#0a1a30" stop-opacity="0.4"/>
    <stop offset="1" stop-color="#0a1a30" stop-opacity="0.6"/>
  </linearGradient>
  <linearGradient id="foilShade2" gradientUnits="userSpaceOnUse" x1="800" y1="1300" x2="850" y2="1380">
    <stop offset="0" stop-color="#0f2a4c" stop-opacity="0.55"/>
    <stop offset="1" stop-color="#0f2a4c" stop-opacity="0"/>
  </linearGradient>
  <linearGradient id="skyG" x1="0" y1="0" x2="0" y2="1">
    <stop offset="0" stop-color="#0c4a8c"/>
    <stop offset="0.3" stop-color="#0f5aa3"/>
    <stop offset="0.6" stop-color="#1365b2"/>
    <stop offset="1" stop-color="#1a6dba"/>
  </linearGradient>
  <filter id="glint" x="0" y="0" width="100%" height="100%">
    <feTurbulence type="fractalNoise" baseFrequency="0.04 0.26" numOctaves="3" seed="5" result="n"/>
    <feColorMatrix in="n" type="matrix" values="0 0 0 0 0  0 0 0 0 0  0 0 0 0 0  5 0 0 0 -2.15" result="a"/>
    <feFlood flood-color="#0a1830"/>
    <feComposite in2="a" operator="in" result="dark"/>
    <feColorMatrix in="n" type="matrix" values="0 0 0 0 0  0 0 0 0 0  0 0 0 0 0  0 7 0 0 -3.55" result="b"/>
    <feFlood flood-color="#ffffff"/>
    <feComposite in2="b" operator="in" result="light"/>
    <feMerge result="m"><feMergeNode in="SourceGraphic"/><feMergeNode in="dark"/><feMergeNode in="light"/></feMerge>
    <feComposite in="m" in2="SourceAlpha" operator="in"/>
  </filter>
</defs>
<g id="photo2" clip-path="url(#ph2clip)">
  <rect x="798" y="1213.5" width="243.5" height="241.5" fill="url(#skyG)"/>
  <path d="M994.7,1299.5 L1011.5,1298.6 L1028.3,1314.5 L1043.2,1329.4 L1043.2,1349.9 L1022.7,1325.7 Z" fill="#c0906c"/>
  <g clip-path="url(#foilclip)"><g transform="rotate(-16 920 1380)" filter="url(#glint)"><rect x="740" y="1240" width="360" height="300" fill="#587392"/></g><rect x="798" y="1290" width="244" height="166" fill="url(#foilShade)"/><rect x="798" y="1290" width="244" height="166" fill="url(#foilShade2)"/></g>
</g>
<!-- ===== weather icons ===== -->
<g id="icons" fill="none" stroke="#0c0c0c" stroke-linecap="round" stroke-linejoin="round">
  <rect x="302.2" y="1371.6" width="88.4" height="85.6" rx="7" stroke="#747474" stroke-width="1.9"/>
  <rect x="422.2" y="1371.6" width="88.4" height="85.6" rx="7" stroke="#747474" stroke-width="1.9"/>
  <rect x="537" y="1371.6" width="88.4" height="85.6" rx="7" stroke="#747474" stroke-width="1.9"/>
  <rect x="653" y="1371.6" width="88.4" height="85.6" rx="7" stroke="#747474" stroke-width="1.9"/>
  <circle cx="344.9" cy="1415.3" r="21.4" stroke-width="2.5"/>
  <path d="M374.3,1415.3 L379.5,1415.3 M365.7,1436.1 L369.4,1439.8 M344.9,1444.7 L344.9,1449.9 M324.1,1436.1 L320.4,1439.8 M315.5,1415.3 L310.3,1415.3 M324.1,1394.5 L320.4,1390.8 M344.9,1385.9 L344.9,1380.7 M365.7,1394.5 L369.4,1390.8" stroke-width="2.5" stroke-linecap="butt"/>
  <path d="M444.4,1428.8 C434.8,1428.8 429.2,1415.2 439.6,1406.7 C439.6,1397.6 448.4,1391.2 455.6,1395.5 C462.0,1382.4 484.4,1382.4 489.7,1404.0 C502.8,1406.4 502.8,1428.8 487.6,1428.8 Z" stroke-width="2.4"/>
  <path d="M450.8,1432.8 L444.1,1443.5 M459.9,1432.8 L453.2,1443.5 M468.9,1432.8 L462.2,1443.5 M478.8,1432.8 L472.1,1443.5 M487.9,1432.8 L481.2,1443.5" stroke-width="2.3" stroke-dasharray="4.2 2.6" stroke-linecap="butt"/>
  <polygon points="580.5,1401.0 568.2,1408.1 568.2,1422.3 580.5,1429.4 592.8,1422.3 592.8,1408.1" stroke-width="2.6"/>
  <polygon points="580.5,1408.6 574.8,1411.9 574.8,1418.5 580.5,1421.8 586.2,1418.5 586.2,1411.9" stroke-width="2.4"/>
  <path d="M580.5,1401.0 L580.5,1380.2 M580.5,1396.2 L587.5,1389.5 M580.5,1396.2 L573.5,1389.5 M580.5,1389.2 L587.5,1382.5 M580.5,1389.2 L573.5,1382.5 M568.2,1408.1 L550.2,1397.7 M564.0,1405.7 L561.7,1396.2 M564.0,1405.7 L554.7,1408.4 M558.0,1402.2 L555.6,1392.7 M558.0,1402.2 L548.6,1404.9 M568.2,1422.3 L550.2,1432.7 M564.0,1424.7 L554.7,1422.0 M564.0,1424.7 L561.7,1434.2 M558.0,1428.2 L548.6,1425.5 M558.0,1428.2 L555.6,1437.7 M580.5,1429.4 L580.5,1450.2 M580.5,1434.2 L573.5,1441.0 M580.5,1434.2 L587.5,1441.0 M580.5,1441.2 L573.5,1448.0 M580.5,1441.2 L587.5,1448.0 M592.8,1422.3 L610.8,1432.7 M596.9,1424.7 L599.3,1434.2 M596.9,1424.7 L606.3,1422.0 M603.0,1428.2 L605.3,1437.7 M603.0,1428.2 L612.4,1425.5 M592.8,1408.1 L610.8,1397.7 M596.9,1405.7 L606.3,1408.4 M596.9,1405.7 L599.3,1396.2 M603.0,1402.2 L612.4,1404.9 M603.0,1402.2 L605.3,1392.7" stroke-width="2.6" stroke-linecap="butt"/>
  <path d="M661.9,1415.2 L680.0,1415.2 C689.6,1414.4 690.4,1400.0 680.0,1398.4 C672.0,1397.8 669.6,1408.0 676.8,1408.8 C681.6,1408.8 681.6,1403.5 678.1,1404.0 M661.9,1422.7 L680.0,1422.7 C689.6,1423.5 690.4,1437.9 680.0,1439.5 C672.0,1440.2 669.6,1429.9 676.8,1429.1 C681.6,1429.1 681.6,1434.4 678.1,1433.9" stroke-width="2.5"/>
  <path d="M693.6,1424.0 C688.0,1423.2 688.0,1411.2 696.8,1408.8 C699.2,1396.0 721.6,1394.4 725.3,1410.9 C732.8,1412.8 732.0,1424.0 725.6,1424.0 Z" stroke-width="2.5"/>
  <path d="M701.6,1410.9 C700.0,1406.4 702.4,1401.9 706.4,1400.0" stroke-width="2"/>
</g>
</svg>
</body>
</html>
